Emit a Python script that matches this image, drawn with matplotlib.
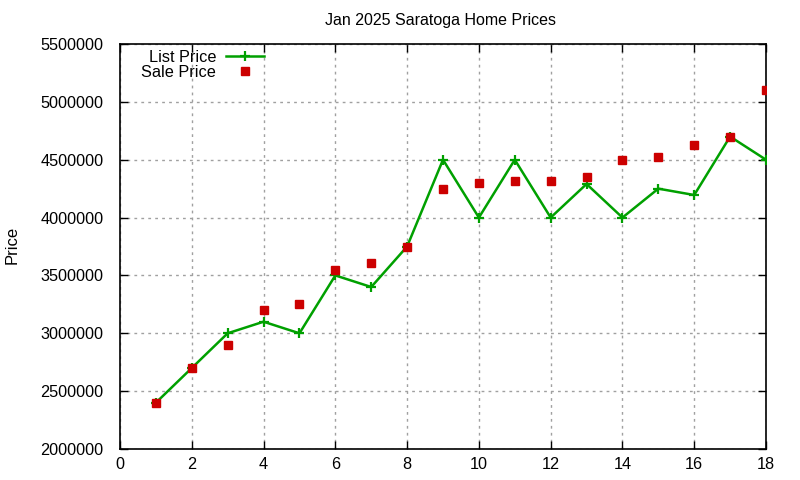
import matplotlib
matplotlib.use("Agg")
import matplotlib.pyplot as plt
from matplotlib.ticker import MultipleLocator

plt.rcParams['font.family'] = ['Liberation Sans', 'DejaVu Sans']

months = list(range(1, 19))
list_price = [2400000, 2700000, 3000000, 3100000, 3000000, 3500000, 3400000, 3750000,
              4500000, 4000000, 4500000, 4000000, 4290000, 4000000, 4250000, 4195000,
              4700000, 4500000]
sale_price = [2400000, 2700000, 2900000, 3200000, 3250000, 3550000, 3610000, 3750000,
              4250000, 4295000, 4320000, 4320000, 4350000, 4500000, 4520000, 4625000,
              4700000, 5100000]
title = "Jan 2025 Saratoga Home Prices"

fig = plt.figure(figsize=(8, 4.8), dpi=100)
ax = fig.add_axes([0.15, 0.0646, 0.8075, 0.8437])

ax.plot(months, list_price, color='#00a000', lw=1.8, marker='+', ms=6.5, mew=1.6,
        label='List Price', zorder=3)
ax.plot(months, sale_price, ls='none', marker='s', ms=6, color='#cc0000',
        label='Sale Price', zorder=4)

ax.set_xlim(0, 18)
ax.set_ylim(2000000, 5500000)
ax.xaxis.set_major_locator(MultipleLocator(2))
ax.yaxis.set_major_locator(MultipleLocator(500000))
ax.ticklabel_format(style='plain', axis='y', useOffset=False)
ax.grid(True, color='#a0a0a0', ls=(0, (2, 3)), lw=1)
ax.set_axisbelow(True)
ax.tick_params(direction='in', length=6, width=1, top=True, right=True,
               labelsize=11.7, colors='black')
ax.tick_params(axis='y', pad=12)
ax.tick_params(axis='x', pad=6)
for s in ax.spines.values():
    s.set_linewidth(1.2)

fig.text(0.55, 0.958, title, ha='center', va='center', fontsize=11.5)
fig.text(0.015, 0.49, 'Price', rotation=90, ha='center', va='center', fontsize=12)

leg = ax.legend(loc='upper left', bbox_to_anchor=(0.018, 1.01), frameon=False,
                markerfirst=False, fontsize=11.7, handlelength=2.35,
                handletextpad=0.6, labelspacing=0.0, borderaxespad=0.2)
for t in leg.get_texts():
    t.set_ha('right')

fig.savefig('out.png', dpi=100)
